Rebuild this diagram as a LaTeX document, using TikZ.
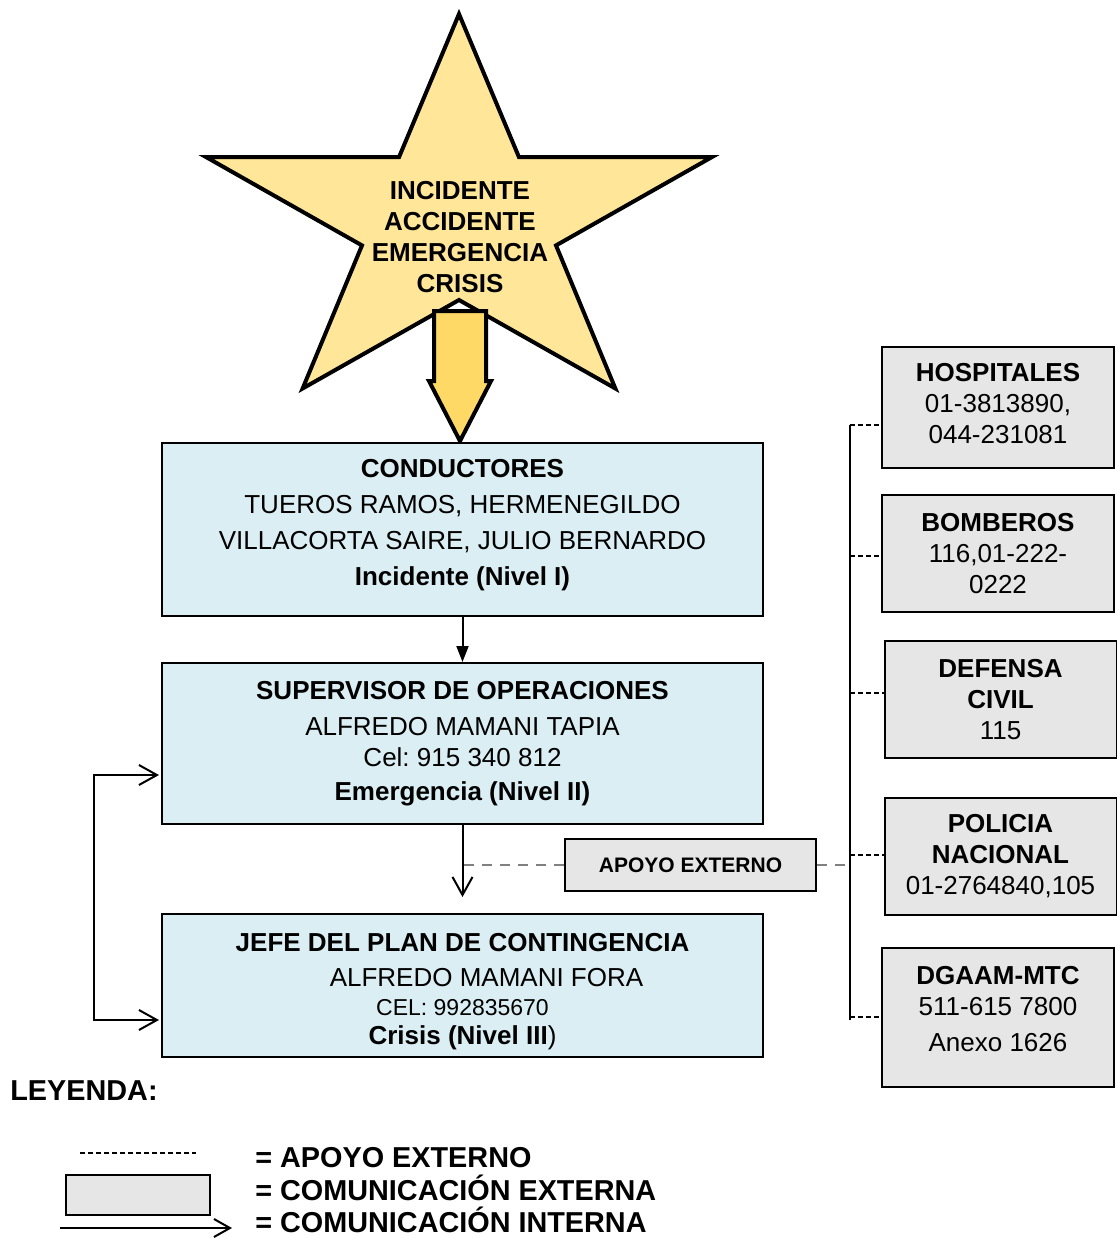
\documentclass[tikz,border=0pt]{standalone}
\usepackage{fontspec}
\setmainfont{Liberation Sans}
\usetikzlibrary{arrows.meta,positioning}
\definecolor{celeste}{HTML}{DAEEF3}
\definecolor{grisext}{HTML}{E6E6E6}
\definecolor{crema}{HTML}{FFE699}
\definecolor{mostaza}{HTML}{FFD966}
\newcommand{\cuerpo}{\fontsize{13}{15.5}\selectfont\frenchspacing}
\newcommand{\leyfont}{\fontsize{14.4}{17}\selectfont\bfseries}
\tikzstyle{estrella}=[
	draw=black,
	line width=2pt,
	fill=crema,
	line join=miter
]
\tikzstyle{flecha}=[
	draw=black,
	line width=2pt,
	fill=mostaza,
	line join=miter
]
\tikzstyle{nivel}=[
	rectangle,
	draw=black,
	line width=1pt,
	fill=celeste,
	minimum width=300.5pt,
	inner sep=0pt,
	align=center,
	font=\cuerpo
]
\tikzstyle{externa}=[
	rectangle,
	draw=black,
	line width=1pt,
	fill=grisext,
	minimum width=116pt,
	minimum height=58.5pt,
	inner sep=0pt,
	align=center,
	font=\cuerpo
]
\tikzstyle{interna}=[
	line width=1pt,
	>={Straight Barb[length=9pt,width=10pt]}
]
\tikzstyle{enlace}=[
	line width=0.8pt,
	dash pattern=on 2.5pt off 1.5pt
]
\tikzstyle{apoyo}=[
	line width=0.6pt,
	draw=gray,
	dash pattern=on 5pt off 4pt
]
\tikzstyle{leyenda}=[
	font=\leyfont,
	anchor=base west,
	inner sep=0pt
]

\begin{document}
\begin{tikzpicture}[x=0.5pt,y=-0.5pt]
\useasboundingbox (0,0) rectangle (1116,1238);

% evento
\draw[estrella, shift={(459,221)}] (270:266 and 207) -- (306:102 and 79)
	-- (342:266 and 207) -- (18:102 and 79) -- (54:266 and 207)
	-- (90:102 and 79) -- (126:266 and 207) -- (162:102 and 79)
	-- (198:266 and 207) -- (234:102 and 79) -- cycle;
\draw[flecha] (434,311) -- (486,311) -- (486,381) -- (491,381) -- (460,441)
	-- (429,381) -- (434,381) -- cycle;
\node [font=\cuerpo\bfseries, align=center, inner sep=0pt] (evento) at (460,237)
	{INCIDENTE\\ACCIDENTE\\EMERGENCIA\\CRISIS};

% niveles
\node [nivel, minimum height=86.5pt] (conductores) at (462.5,529.5)
	{\textbf{CONDUCTORES}\\[2.5pt]
	TUEROS RAMOS, HERMENEGILDO\\[2.5pt]
	VILLACORTA SAIRE, JULIO BERNARDO\\[2.5pt]
	\textbf{Incidente (Nivel I)}\rule[-7.5pt]{0pt}{0pt}};
\node [nivel, minimum height=80.5pt] (supervisor) at (462.5,743.5)
	{\textbf{SUPERVISOR DE OPERACIONES}\\[2.5pt]
	ALFREDO MAMANI TAPIA\\
	Cel: 915 340 812\\[1.5pt]
	\textbf{Emergencia (Nivel II)}};
\node [nivel, minimum height=71.5pt] (jefe) at (462.5,985.5)
	{\rule{0pt}{15pt}\textbf{JEFE DEL PLAN DE CONTINGENCIA}\\[2pt]
	\hspace*{24pt}ALFREDO MAMANI FORA\\[-1pt]
	{\fontsize{11.5}{13}\selectfont CEL: 992835670}\\[-1pt]
	\textbf{Crisis (Nivel III})};
\node [externa, minimum width=125.5pt, minimum height=26pt,
	font=\fontsize{10.5}{12}\selectfont\bfseries] (apoyo) at (690.5,865) {APOYO EXTERNO};

% comunicacion externa
\node [externa, minimum height=60.5pt] (hospitales) at (998,407.5)
	{\textbf{HOSPITALES}\\01-3813890,\\044-231081\rule[-4.5pt]{0pt}{0pt}};
\node [externa] (bomberos) at (998,553.5)
	{\textbf{BOMBEROS}\\116,01-222-\\0222};
\node [externa] (defensa) at (1000.5,699.5)
	{\textbf{DEFENSA}\\\textbf{CIVIL}\\115};
\node [externa] (policia) at (1000.5,856.5)
	{\textbf{POLICIA}\\\textbf{NACIONAL}\\01-2764840,105};
\node [externa, minimum height=69.5pt] (dgaam) at (998,1017.5)
	{\textbf{DGAAM-MTC}\\511-615 7800\\[2.5pt]Anexo 1626\rule[-9pt]{0pt}{0pt}};

% conectores
\draw [line width=1pt, -{Triangle[length=8pt,width=6pt]}] (conductores) -- (supervisor);
\draw [interna, ->, shorten >=8pt] (supervisor) -- (jefe);
\coordinate (bucleA) at (94,775);
\coordinate (bucleB) at (94,1020);
\draw [interna, <->, shorten <=1pt, shorten >=1pt]
	(bucleA -| supervisor.west) -- (bucleA) -- (bucleB) -- (bucleB -| jefe.west);
\coordinate (bus) at (850,425);
\coordinate (busfin) at (850,1020);
\draw [line width=1pt] (bus) -- (busfin);
\draw [apoyo] (apoyo.west) -- (apoyo.west -| supervisor.south);
\draw [apoyo] (apoyo.east) -- (apoyo.east -| bus);
\foreach \n/\y in {hospitales/425,bomberos/556,defensa/693,policia/855,dgaam/1017}{
	\path (850,\y) coordinate (enl);
	\draw [enlace] (enl) -- (enl -| \n.west);
}

% leyenda
\node [leyenda] (titley) at (10,1100) {LEYENDA:};
\draw [line width=0.7pt, dash pattern=on 2.5pt off 1.5pt] (80,1153) -- (196,1153);
\node [externa, minimum width=72pt, minimum height=20pt] (muestra) at (138,1195) {};
\draw [interna, ->, >={Straight Barb[length=8pt,width=9pt]}] (60,1228) -- (232,1228);
\node [leyenda] (ley1) at (255,1167) {= APOYO EXTERNO};
\node [leyenda] (ley2) at (255,1200) {= COMUNICACIÓN EXTERNA};
\node [leyenda] (ley3) at (255,1232) {= COMUNICACIÓN INTERNA};
\end{tikzpicture}
\end{document}
